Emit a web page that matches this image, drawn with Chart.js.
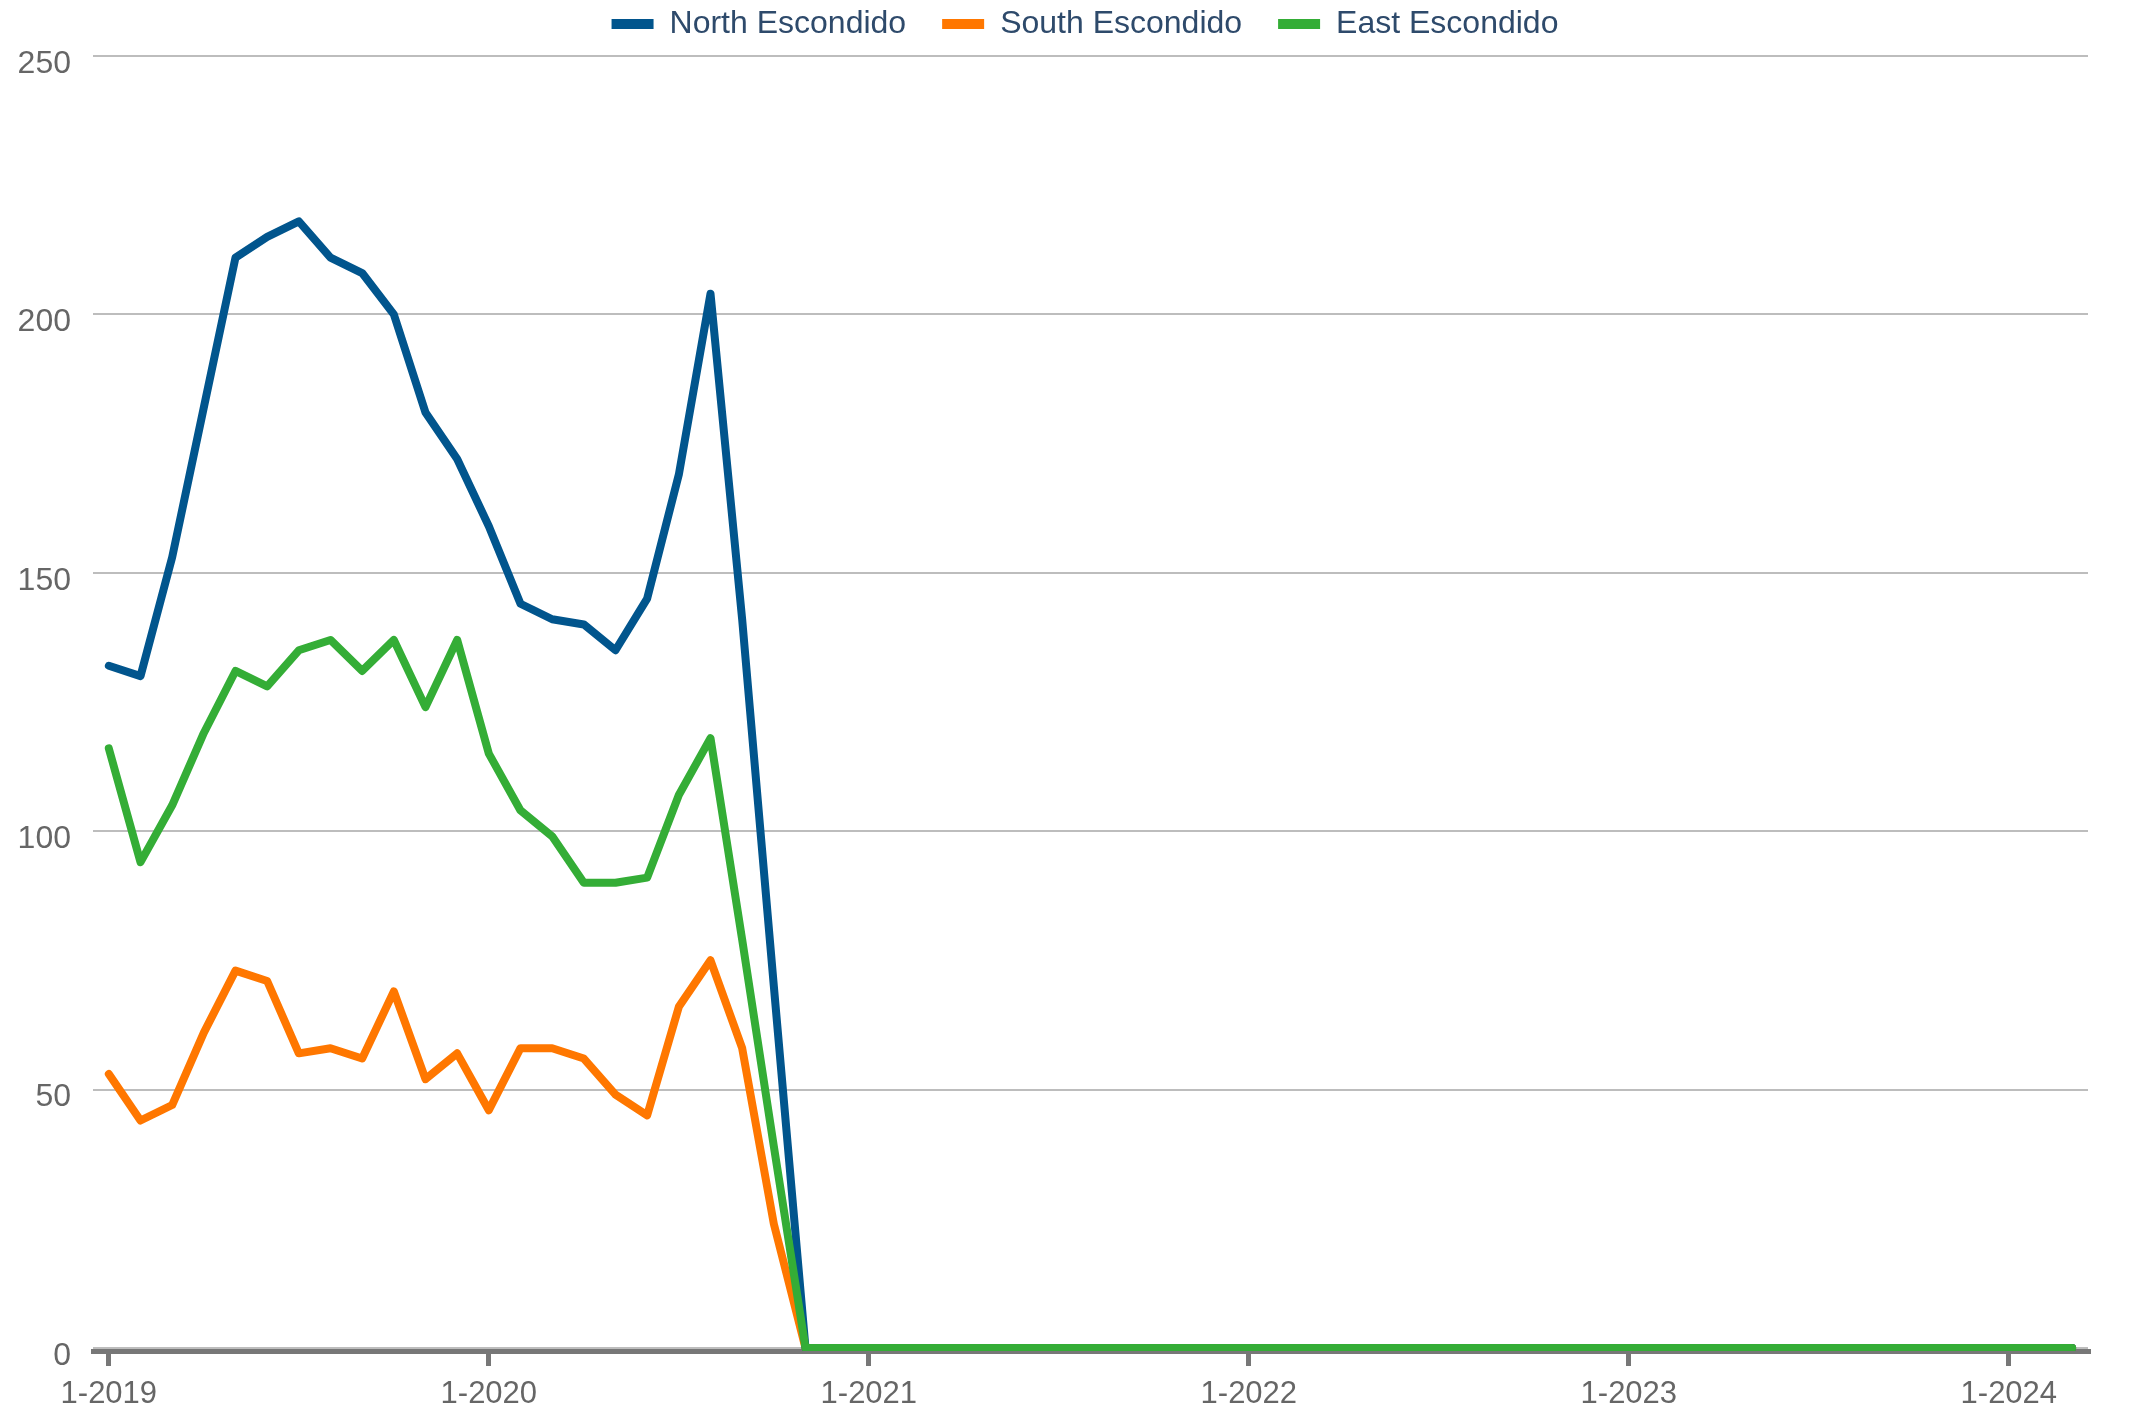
<!DOCTYPE html>
<html>
<head>
<meta charset="utf-8">
<script src="https://cdn.jsdelivr.net/npm/chart.js@4"></script>
<style>
  html, body { margin: 0; padding: 0; background: #fff; }
  #wrap { width: 2152px; height: 1410px; }
</style>
</head>
<body>
<div id="wrap"><canvas id="chart" width="2152" height="1410"></canvas></div>
<script>
// Monthly categories, Jan 2019 .. Mar 2024
const months = [
    '1-2019', '2-2019', '3-2019', '4-2019', '5-2019', '6-2019', '7-2019', '8-2019', '9-2019', '10-2019', '11-2019', '12-2019',
    '1-2020', '2-2020', '3-2020', '4-2020', '5-2020', '6-2020', '7-2020', '8-2020', '9-2020', '10-2020', '11-2020', '12-2020',
    '1-2021', '2-2021', '3-2021', '4-2021', '5-2021', '6-2021', '7-2021', '8-2021', '9-2021', '10-2021', '11-2021', '12-2021',
    '1-2022', '2-2022', '3-2022', '4-2022', '5-2022', '6-2022', '7-2022', '8-2022', '9-2022', '10-2022', '11-2022', '12-2022',
    '1-2023', '2-2023', '3-2023', '4-2023', '5-2023', '6-2023', '7-2023', '8-2023', '9-2023', '10-2023', '11-2023', '12-2023',
    '1-2024', '2-2024', '3-2024'
];

// Only these months get a tick label
const tickLabels = ['1-2019', '1-2020', '1-2021', '1-2022', '1-2023', '1-2024'];
const yTicks = [0, 50, 100, 150, 200, 250];

const northEscondido = [
    132, 130, 153, 182, 211, 215, 218, 211, 208, 200, 181, 172,
    159, 144, 141, 140, 135, 145, 169, 204, 141, 70, 0, 0,
    0, 0, 0, 0, 0, 0, 0, 0, 0, 0, 0, 0,
    0, 0, 0, 0, 0, 0, 0, 0, 0, 0, 0, 0,
    0, 0, 0, 0, 0, 0, 0, 0, 0, 0, 0, 0,
    0, 0, 0
];
const southEscondido = [
    53, 44, 47, 61, 73, 71, 57, 58, 56, 69, 52, 57,
    46, 58, 58, 56, 49, 45, 66, 75, 58, 24, 0, 0,
    0, 0, 0, 0, 0, 0, 0, 0, 0, 0, 0, 0,
    0, 0, 0, 0, 0, 0, 0, 0, 0, 0, 0, 0,
    0, 0, 0, 0, 0, 0, 0, 0, 0, 0, 0, 0,
    0, 0, 0
];
const eastEscondido = [
    116, 94, 105, 119, 131, 128, 135, 137, 131, 137, 124, 137,
    115, 104, 99, 90, 90, 91, 107, 118, 79, 39, 0, 0,
    0, 0, 0, 0, 0, 0, 0, 0, 0, 0, 0, 0,
    0, 0, 0, 0, 0, 0, 0, 0, 0, 0, 0, 0,
    0, 0, 0, 0, 0, 0, 0, 0, 0, 0, 0, 0,
    0, 0, 0
];

const seriesNames = ['North Escondido', 'South Escondido', 'East Escondido'];
const seriesColors = ['#01558d', '#ff7700', '#34ad36'];
// East is painted on top, then North, then South
const drawOrder = [1, 2, 0];

Chart.defaults.font.family = '"Liberation Sans", Arial, sans-serif';

// Nudge the legend so it sits centred over the plot, close to the top edge
const legendShift = {
    id: 'legendShift',
    afterLayout: function(c) {
        if (c.legend) {
            c.legend.left += 41;
            c.legend.right += 41;
            c.legend.top -= 6;
            c.legend.bottom -= 6;
        }
    }
};

const ctx = document.getElementById('chart').getContext('2d');

const chart = new Chart(ctx, {
    type: 'line',
    data: {
        labels: months,
        datasets: [northEscondido, southEscondido, eastEscondido].map(function(values, i) {
            return {
                label: seriesNames[i],
                data: values,
                borderColor: seriesColors[i],
                backgroundColor: seriesColors[i],
                borderWidth: 8,
                order: drawOrder[i],
                fill: false
            };
        })
    },
    options: {
        responsive: false,
        devicePixelRatio: 1,
        animation: false,
        layout: {
            padding: { top: -36, left: 0, right: 64, bottom: 0 }
        },
        elements: {
            point: { radius: 0, hoverRadius: 0 },
            line: {
                tension: 0,
                borderJoinStyle: 'round',
                borderCapStyle: 'round'
            }
        },
        plugins: {
            legend: {
                position: 'top',
                align: 'center',
                labels: {
                    boxWidth: 42,
                    boxHeight: 10,
                    padding: 36,
                    color: '#2e4a6b',
                    font: { size: 32 },
                    sort: function(a, b) { return a.datasetIndex - b.datasetIndex; },
                    generateLabels: function(c) {
                        return Chart.defaults.plugins.legend.labels.generateLabels(c).map(function(item) {
                            item.lineWidth = 0;
                            return item;
                        });
                    }
                }
            },
            tooltip: { enabled: false }
        },
        scales: {
            x: {
                type: 'category',
                offset: true,
                z: 1,
                afterFit: function(axis) { axis.height = 59; },
                grid: {
                    offset: false,
                    drawOnChartArea: false,
                    drawTicks: true,
                    tickLength: 15,
                    lineWidth: 5,
                    color: '#777777'
                },
                border: { color: '#777777', width: 5 },
                ticks: {
                    autoSkip: false,
                    maxRotation: 0,
                    padding: 10,
                    color: '#666666',
                    font: { size: 31 },
                    callback: function(value) {
                        const label = this.getLabelForValue(value);
                        return tickLabels.includes(label) ? label : null;
                    }
                }
            },
            y: {
                min: -0.6,
                max: 250,
                afterBuildTicks: function(axis) {
                    axis.ticks = yTicks.map(function(v) { return { value: v }; });
                },
                afterFit: function(axis) {
                    axis.width = 93;
                    axis.paddingTop = 56;
                },
                grid: { color: '#bdbdbd', lineWidth: 2, drawTicks: false },
                border: { display: false },
                ticks: {
                    padding: 22,
                    color: '#666666',
                    font: { size: 32 },
                    labelOffset: 8
                }
            }
        }
    },
    plugins: [legendShift]
});
</script>
</body>
</html>
